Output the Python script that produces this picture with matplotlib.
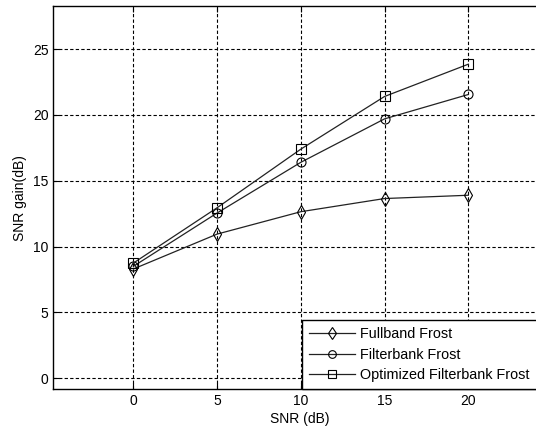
import matplotlib
matplotlib.use("Agg")
import matplotlib.pyplot as plt

snr = [0, 5, 10, 15, 20]
fullband = [8.3, 10.95, 12.65, 13.65, 13.9]
filterbank = [8.5, 12.55, 16.4, 19.7, 21.55]
optimized = [8.75, 12.95, 17.4, 21.4, 23.85]
series_labels = ["Fullband Frost", "Filterbank Frost", "Optimized Filterbank Frost"]
x_ticks = [0, 5, 10, 15, 20]
y_ticks = [0, 5, 10, 15, 20, 25]

plt.rcParams['font.family'] = ['Liberation Sans', 'DejaVu Sans']

W, H = 536, 432
fig = plt.figure(figsize=(W / 100, H / 100), dpi=100)
left, right, top, bottom = 53.3, 547, 6, 389.3
ax = fig.add_axes([left / W, 1 - bottom / H, (right - left) / W, (bottom - top) / H])
ax.set_xlim(-4.78, 24.7)
ax.set_ylim(-0.835, 28.27)

lc = '#222222'
ax.plot(snr, fullband, color=lc, lw=0.9, marker='d', ms=7, mfc='none', mec='black', mew=0.8, label=series_labels[0])
ax.plot(snr, filterbank, color=lc, lw=0.9, marker='o', ms=6.5, mfc='none', mec='black', mew=0.8, label=series_labels[1])
ax.plot(snr, optimized, color=lc, lw=0.9, marker='s', ms=6.5, mfc='none', mec='black', mew=0.8, label=series_labels[2])

ax.set_xticks(x_ticks)
ax.set_yticks(y_ticks)
ax.tick_params(direction='in', length=4, width=0.8, top=True, right=True, labelsize=10, colors='black')
ax.grid(True, color='black', linestyle=(0, (3, 2)), linewidth=0.8)
for s in ax.spines.values():
    s.set_linewidth(1.0)
    s.set_color('black')

ax.set_xlabel("SNR (dB)", fontsize=10, labelpad=3)
ax.set_ylabel("SNR gain(dB)", fontsize=10, labelpad=4)

leg = ax.legend(loc='lower left', bbox_to_anchor=(302 / W, 1 - bottom / H),
                bbox_transform=fig.transFigure, borderaxespad=0, fancybox=False,
                framealpha=1, edgecolor='black', fontsize=10.4, handlelength=3.2,
                handletextpad=0.35, labelspacing=0.45, borderpad=0.5, markerscale=0.85)
leg.get_frame().set_linewidth(1.0)

fig.savefig("out.png", dpi=100, facecolor='white')
